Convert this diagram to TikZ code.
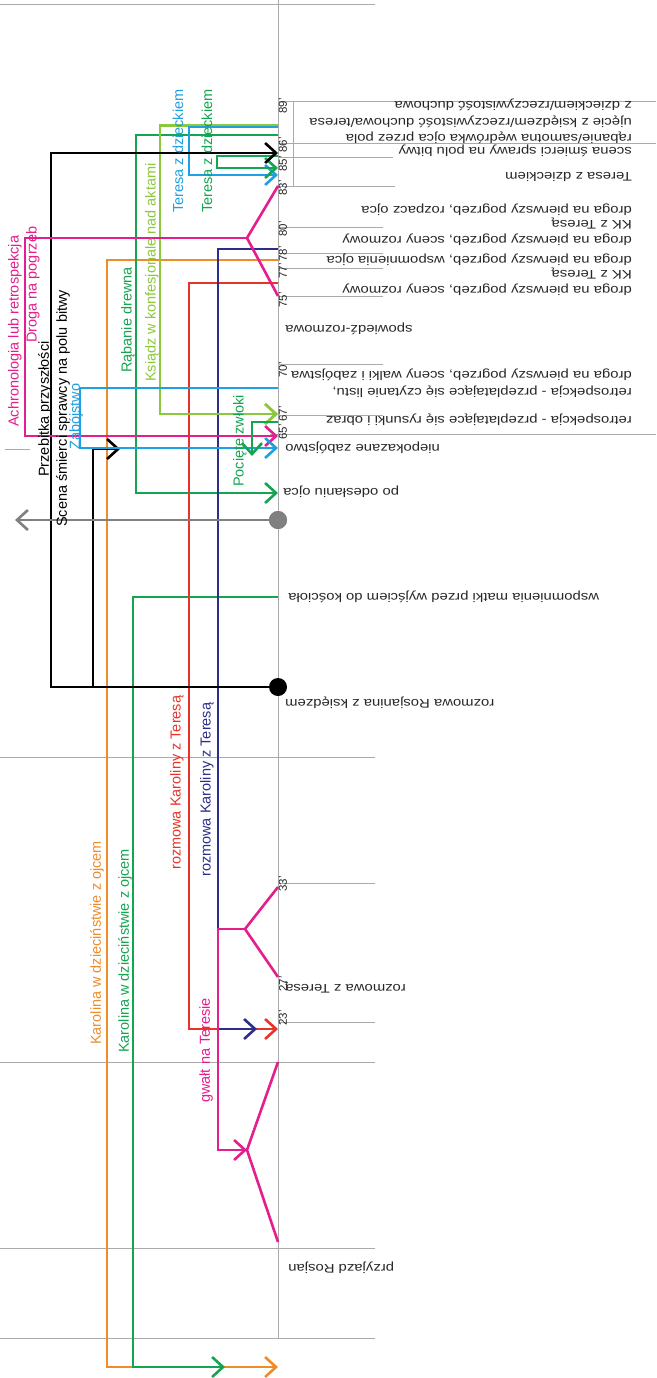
\documentclass[tikz,border=0pt]{standalone}
\usepackage{fontspec}
\setmainfont{Liberation Sans}
\usetikzlibrary{arrows.meta}
\definecolor{cpink}{RGB}{228,30,140}
\definecolor{cnavy}{RGB}{45,45,140}
\definecolor{cred}{RGB}{232,52,40}
\definecolor{corange}{RGB}{240,140,40}
\definecolor{cgreen}{RGB}{20,165,80}
\definecolor{clgreen}{RGB}{140,200,60}
\definecolor{cblue}{RGB}{30,160,225}
\definecolor{cgray}{RGB}{128,128,128}
\definecolor{cgrid}{RGB}{170,170,170}
\definecolor{ctext}{RGB}{40,40,40}
\begin{document}
\begin{tikzpicture}[x=1pt,y=-1pt,line join=miter,
  gridline/.style={draw=cgrid,line width=0.8pt},
  cl/.style={line width=2.6pt},
  arr/.style={-{Straight Barb[length=11pt,width=20pt]}},
  rlab/.style={rotate=90,anchor=west,inner sep=0pt,font=\fontsize{14.5}{16}\selectfont},
  ulab/.style={rotate=180,xscale=1.19,anchor=west,inner sep=0pt,text=ctext,font=\fontsize{12.5}{15}\selectfont},
  ulabl/.style={rotate=180,xscale=1.19,anchor=east,inner sep=0pt,text=ctext,font=\fontsize{12.5}{15}\selectfont},
  ticklab/.style={rotate=90,inner sep=0pt,text=ctext,font=\fontsize{11.5}{13}\selectfont},
  dot/.style={circle,inner sep=0pt,minimum size=18pt}]
\useasboundingbox (0,0) rectangle (656,1378);
\fill[white] (0,0) rectangle (656,1378);

% ---------- grid ----------
\draw[gridline] (278,0) -- (278,1338);
\foreach \yy in {4,757,1062,1248,1338} \draw[gridline] (0,\yy) -- (375,\yy);
\draw[gridline] (5,449) -- (30,449);
\draw[gridline] (278,101) -- (656,101);
\draw[gridline] (278,143) -- (656,143);
\draw[gridline] (278,157) -- (393,157);
\draw[gridline] (278,186) -- (395,186);
\draw[gridline] (293,101) -- (293,186);
\foreach \yy in {227,253,268,296,364,415} \draw[gridline] (278,\yy) -- (383,\yy);
\draw[gridline] (270,434) -- (656,434);
\draw[gridline] (278,883) -- (375,883);
\draw[gridline] (278,1022) -- (375,1022);

% ---------- coordinates ----------
\coordinate (o1) at (278,260);  \coordinate (o2) at (278,1367);
\coordinate (k1) at (278,597);  \coordinate (k2) at (225,1367);
\coordinate (r1) at (278,135);  \coordinate (r2) at (278,493);
\coordinate (l1) at (278,125.5);\coordinate (l2) at (278,414);
\coordinate (b1) at (278,127);  \coordinate (b2) at (278,175);
\coordinate (g1) at (278,156);  \coordinate (g2) at (278,168);
\coordinate (k3) at (278,153);  \coordinate (k4) at (120,449);
\coordinate (pj) at (247,238);  \coordinate (t83) at (278,186);
\coordinate (t75) at (278,296); \coordinate (p2) at (278,436);
\coordinate (n1) at (278,249);  \coordinate (n2) at (257,1029);
\coordinate (rd1) at (278,283); \coordinate (rd2) at (278,1029);
\coordinate (z1) at (278,388);  \coordinate (z2) at (278,448);
\coordinate (pc1) at (278,422); \coordinate (pc2) at (252,456);
\coordinate (ga) at (15,520);
\coordinate (gy1) at (245,929); \coordinate (t33) at (278,887);
\coordinate (t27) at (278,977); \coordinate (gv) at (218,929);
\coordinate (gj) at (247,1150); \coordinate (gz1) at (278,1062);
\coordinate (gz2) at (278,1242);
\coordinate (bdc) at (278,687);
\coordinate (lgc) at (160,414);

% ---------- connectors ----------
\draw[cl,corange,arr] (o1) -- ++(-171,0) |- (o2);
\draw[cl,cgreen,arr] (k1) -- ++(-145,0) |- (k2);
\draw[cl,cgreen,arr] (r1) -- ++(-142,0) |- (r2);
\draw[cl,clgreen,arr] (l1) -- ++(-118,0) |- (l2);
\draw[cl,cblue,arr] (b1) -- ++(-89,0) |- (b2);
\draw[cl,cgreen,arr] (g1) -- ++(-61,0) |- (g2);
\draw[cl,cred,arr] (rd1) -- ++(-89,0) |- (rd2);
\draw[cl,cnavy,arr] (n1) -- ++(-60,0) |- (n2);
\draw[cl,black,arr] (bdc) -- ++(-227,0) |- (k3);
\draw[cl,black,arr] (bdc) -- ++(-185,0) |- (k4);
\draw[cl,cpink] (t83) -- (pj) -- (t75);
\draw[cl,cpink,arr] (pj) -- ++(-222,0) |- (p2);
\draw[cl,clgreen,arr] (lgc) -- (l2);
\draw[cl,cblue,arr] (z1) -- ++(-198,0) |- (z2);
\draw[cl,cgreen,arr] (pc1) -| (pc2);
\draw[cl,cpink] (t33) -- (gy1) -- (t27);
\draw[cl,cpink,arr] (gy1) -- (gv) |- (gj);
\draw[cl,cpink] (gz1) -- (gj) -- (gz2);

\node[dot,fill=cgray] (gd) at (278,520) {};
\draw[cl,cgray,arr] (gd.center) -- (ga);
\node[dot,fill=cgray] (gd2) at (gd.center) {};
\node[dot,fill=black] (bd) at (bdc) {};

% ---------- rotated labels ----------
\node[rlab,text=cpink] (la1) at (15,427) {Achronologia lub retrospekcja};
\node[rlab,text=cpink] (la2) at (33,343) {Droga na pogrzeb};
\node[rlab,text=black] (la3) at (45,477) {Przebitka przyszłości};
\node[rlab,text=black] (la4) at (63,527) {Scena śmierci sprawcy na polu bitwy};
\node[rlab,text=cblue] (la5) at (76,450) {Zabójstwo};
\node[rlab,text=cgreen] (la6) at (128,373) {Rąbanie drewna};
\node[rlab,text=clgreen] (la7) at (152,382) {Ksiądz w konfesjonale nad aktami};
\node[rlab,text=cblue] (la8) at (178,213) {Teresa z dzieckiem};
\node[rlab,text=cgreen] (la9) at (207,213) {Teresa z dzieckiem};
\node[rlab,text=cgreen] (la10) at (240,487) {Pocięte zwłoki};
\node[rlab,text=cred] (la11) at (177,870) {rozmowa Karoliny z Teresą};
\node[rlab,text=cnavy] (la12) at (207,877) {rozmowa Karoliny z Teresą};
\node[rlab,text=corange] (la13) at (97,1045) {Karolina w dzieciństwie z ojcem};
\node[rlab,text=cgreen] (la14) at (125,1053) {Karolina w dzieciństwie z ojcem};
\node[rlab,text=cpink] (la15) at (206,1103) {gwałt na Teresie};

% ---------- upside-down labels ----------
\node[ulab] (u1) at (632,105) {z dzieckiem/rzeczywistość duchowa};
\node[ulab] (u2) at (632,122) {ujęcie z księdzem/rzeczywistość duchowa/teresa};
\node[ulab] (u3) at (632,138) {rąbanie/samotna wędrówka ojca przez pola};
\node[ulab] (u4) at (632,151) {scena śmierci sprawy na polu bitwy};
\node[ulab] (u5) at (632,177) {Teresa z dzieckiem};
\node[ulab] (u6) at (632,210) {droga na pierwszy pogrzeb, rozpacz ojca};
\node[ulab] (u7) at (632,223) {KK z Teresą};
\node[ulab] (u8) at (632,240) {droga na pierwszy pogrzeb, sceny rozmowy};
\node[ulab] (u9) at (632,260) {droga na pierwszy pogrzeb, wspomnienia ojca};
\node[ulab] (u10) at (632,273) {KK z Teresą};
\node[ulab] (u11) at (632,290) {droga na pierwszy pogrzeb, sceny rozmowy};
\node[ulabl] (u12) at (285,329) {spowiedź-rozmowa};
\node[ulab] (u13) at (632,375) {droga na pierwszy pogrzeb, sceny walki i zabójstwa};
\node[ulab] (u14) at (632,392) {retrospekcja - przeplatające się czytanie listu,};
\node[ulab] (u15) at (632,420) {retrospekcja - przeplatające się rysunki i obraz};
\node[ulabl] (u16) at (285,448) {niepokazane zabójstwo};
\node[ulabl] (u17) at (283,492) {po odesłaniu ojca};
\node[ulabl] (u18) at (288,597) {wspomnienia matki przed wyjściem do kościoła};
\node[ulabl] (u19) at (285,703) {rozmowa Rosjanina z księdzem};
\node[ulabl] (u20) at (285,987) {rozmowa z Teresą};
\node[ulabl] (u21) at (288,1268) {przyjazd Rosjan};

% ---------- tick labels ----------
\node[ticklab] (m89) at (283,106) {89'};
\node[ticklab] (m86) at (283,145) {86'};
\node[ticklab] (m85) at (283,164) {85'};
\node[ticklab] (m83) at (283,188) {83'};
\node[ticklab] (m80) at (283,229) {80'};
\node[ticklab] (m78) at (283,254) {78'};
\node[ticklab] (m77) at (283,271) {77'};
\node[ticklab] (m75) at (283,300) {75'};
\node[ticklab] (m70) at (283,370) {70'};
\node[ticklab] (m67) at (283,414) {67'};
\node[ticklab] (m65) at (283,432) {65'};
\node[ticklab] (m33) at (283,884) {33'};
\node[ticklab] (m27) at (283,984) {27'};
\node[ticklab] (m23) at (283,1018) {23'};
\end{tikzpicture}
\end{document}
